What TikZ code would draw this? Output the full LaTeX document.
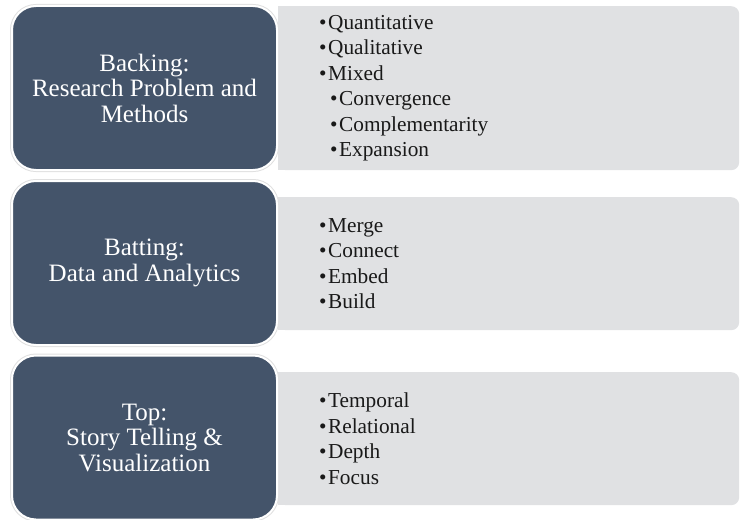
\documentclass[tikz,border=0pt]{standalone}
\usepackage{fontspec}
\setmainfont{Liberation Serif}
\definecolor{darkbox}{HTML}{44546A}
\definecolor{lightbox}{HTML}{E0E1E3}
\newcommand{\bul}{\textbullet\hspace{1.5pt}}
\begin{document}
\begin{tikzpicture}[x=1pt,y=-1pt,
  leftbox/.style={preaction={draw=black!12, line width=4pt}, draw=white, line width=2pt,
    fill=darkbox, rounded corners=24pt, text=white, align=center,
    font=\fontsize{25}{25.5}\selectfont, inner sep=0pt,
    minimum width=265pt, minimum height=164pt},
  rightbox/.style={fill=lightbox, rounded corners=8pt, inner sep=0pt,
    minimum width=461pt, anchor=north west},
  listtext/.style={align=left, anchor=west, inner sep=0pt,
    font=\fontsize{21.3}{25.5}\selectfont, text=black!90}]
\useasboundingbox (0,0) rectangle (741,519);
\fill[white] (0,0) rectangle (741,519);
% grey boxes
\node[rightbox, minimum height=164pt] (g1) at (278,6) {};
\fill[lightbox] (g1.north west) rectangle ++(20,164);
\node[rightbox, minimum height=133pt] (g2) at (278,197) {};
\fill[lightbox] (g2.north west) rectangle ++(20,133);
\node[rightbox, minimum height=133pt] (g3) at (278,372) {};
\fill[lightbox] (g3.north west) rectangle ++(20,133);
% dark boxes
\node[leftbox] (b1) at (144.5,88) {Backing:\\Research Problem and\\Methods};
\node[leftbox] (b2) at (144.5,263) {Batting:\\Data and Analytics};
\node[leftbox] (b3) at (144.5,437.5) {Top:\\Story Telling \&\\Visualization};
% lists
\node[listtext] (l1) at (319,88) {\bul Quantitative\\
  \bul Qualitative\\
  \bul Mixed\\
  \hspace*{11pt}\bul Convergence\\
  \hspace*{11pt}\bul Complementarity\\
  \hspace*{11pt}\bul Expansion};
\node[listtext] (l2) at (319,263.5) {\bul Merge\\
  \bul Connect\\
  \bul Embed\\
  \bul Build};
\node[listtext] (l3) at (319,438.5) {\bul Temporal\\
  \bul Relational\\
  \bul Depth\\
  \bul Focus};
\end{tikzpicture}
\end{document}
